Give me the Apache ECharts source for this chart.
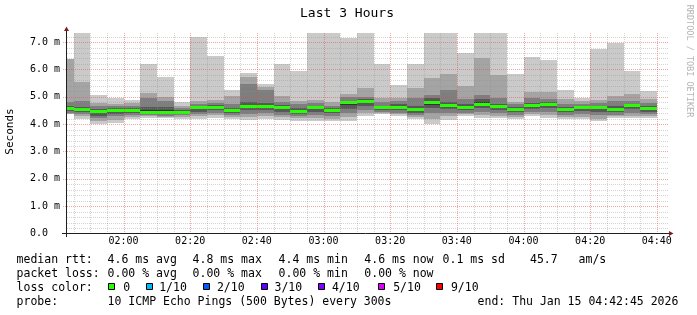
<!DOCTYPE html>
<html><head><meta charset="utf-8">
<script src="https://cdn.jsdelivr.net/npm/echarts@6/dist/echarts.min.js"></script>
<style>html,body{margin:0;padding:0;background:#fff}#c{width:697px;height:315px}</style>
</head><body><div id="c"></div>
<script>
// ---------- data ----------
const titleText = 'Last 3 Hours';
const startTime = '01:42:45';
const endTime = '04:42:45';
const stepMin = 5;
const sampleTimes = ['01:45','01:50','01:55','02:00','02:05','02:10','02:15','02:20','02:25','02:30','02:35','02:40','02:45','02:50','02:55','03:00','03:05','03:10','03:15','03:20','03:25','03:30','03:35','03:40','03:45','03:50','03:55','04:00','04:05','04:10','04:15','04:20','04:25','04:30','04:35','04:40'];
// sorted ping RTTs (ms) per sample, lowest (ping01) to highest (ping10)
const ping01 = [4.36,4.18,4.02,4.03,4.18,4.24,4.22,4.18,4.18,4.24,4.18,4.15,4.18,4.15,4.13,4.13,4.10,4.10,4.30,4.36,4.30,4.18,4.02,4.15,4.30,4.24,4.24,4.18,4.30,4.24,4.18,4.18,4.10,4.22,4.22,4.22];
const ping02 = [4.36,4.28,4.12,4.15,4.26,4.28,4.26,4.25,4.28,4.32,4.26,4.25,4.28,4.25,4.22,4.24,4.20,4.25,4.40,4.40,4.36,4.25,4.20,4.28,4.36,4.32,4.30,4.26,4.36,4.32,4.26,4.27,4.20,4.28,4.30,4.28];
const ping03 = [4.42,4.38,4.22,4.28,4.35,4.33,4.30,4.32,4.38,4.40,4.35,4.38,4.40,4.35,4.30,4.35,4.30,4.42,4.52,4.44,4.42,4.33,4.40,4.42,4.42,4.45,4.40,4.35,4.45,4.45,4.35,4.38,4.33,4.35,4.42,4.36];
const ping04 = [4.48,4.45,4.30,4.38,4.42,4.38,4.36,4.38,4.45,4.50,4.42,4.50,4.52,4.45,4.38,4.45,4.40,4.56,4.66,4.50,4.50,4.42,4.58,4.55,4.50,4.58,4.52,4.45,4.55,4.58,4.44,4.48,4.45,4.43,4.55,4.45];
const ping05 = [4.54,4.52,4.42,4.47,4.48,4.43,4.42,4.43,4.55,4.58,4.48,4.62,4.62,4.55,4.45,4.55,4.48,4.70,4.78,4.57,4.58,4.50,4.70,4.65,4.56,4.68,4.62,4.52,4.65,4.68,4.52,4.58,4.55,4.50,4.65,4.53];
const ping06 = [4.60,4.58,4.50,4.55,4.53,4.50,4.50,4.48,4.63,4.65,4.54,4.70,4.70,4.64,4.52,4.63,4.56,4.81,4.87,4.63,4.66,4.58,4.86,4.73,4.64,4.80,4.70,4.59,4.73,4.75,4.59,4.65,4.63,4.58,4.72,4.60];
const ping07 = [4.68,4.64,4.55,4.58,4.58,4.63,4.62,4.52,4.68,4.70,4.60,4.80,4.78,4.70,4.60,4.68,4.60,4.85,4.90,4.68,4.72,4.68,4.96,4.80,4.72,4.90,4.75,4.62,4.78,4.80,4.63,4.68,4.68,4.65,4.75,4.65];
const ping08 = [4.79,4.86,4.65,4.65,4.65,4.97,4.85,4.58,4.75,4.78,4.72,5.46,5.24,4.81,4.72,4.76,4.68,4.98,5.00,4.80,4.85,4.95,5.07,5.24,4.91,5.07,4.95,4.72,4.95,4.92,4.75,4.75,4.78,4.85,4.85,4.78];
const ping09 = [6.39,5.53,4.78,4.72,4.76,5.15,4.98,4.65,4.85,4.89,5.03,5.72,5.36,5.03,4.85,4.87,4.79,5.11,5.33,4.95,4.97,5.33,5.70,5.84,5.40,6.43,5.80,4.82,5.19,5.19,4.91,4.85,4.87,5.03,5.09,4.91];
const ping10 = [6.39,7.40,5.05,4.97,4.89,6.21,5.72,4.79,7.18,6.49,5.24,5.88,5.46,6.21,5.94,7.40,7.40,7.13,7.40,6.21,5.43,6.21,7.40,7.40,6.61,7.40,7.40,5.84,6.45,6.33,5.24,4.97,6.73,6.97,5.94,5.21];
const medianRtt = [4.58,4.56,4.47,4.53,4.51,4.46,4.46,4.46,4.61,4.63,4.51,4.67,4.67,4.61,4.49,4.61,4.53,4.79,4.85,4.61,4.64,4.55,4.82,4.70,4.61,4.75,4.67,4.57,4.70,4.73,4.57,4.63,4.61,4.55,4.70,4.58];
const xTickLabels = ['02:00','02:20','02:40','03:00','03:20','03:40','04:00','04:20','04:40'];
const yTickValues = [0,1,2,3,4,5,6,7];
const yTickLabels = ['0.0  ','1.0 m','2.0 m','3.0 m','4.0 m','5.0 m','6.0 m','7.0 m'];
const yMax = 7.331;
const lossLabels = ['0','1/10','2/10','3/10','4/10','5/10','9/10'];
const lossColors = ['#26ff00','#00b8ff','#0059ff','#5e00ff','#7e00ff','#dd00ff','#ff0000'];
const statsRtt = ['median rtt:','4.6 ms avg','4.8 ms max','4.4 ms min','4.6 ms now','0.1 ms sd','45.7','am/s'];
const statsLoss = ['packet loss:','0.00 % avg','0.00 % max','0.00 % min','0.00 % now'];
const probeRow = ['probe:','10 ICMP Echo Pings (500 Bytes) every 300s','end: Thu Jan 15 04:42:45 2026'];

// ---------- helpers ----------
function toMin(s){ const p=s.split(':').map(Number); return p[0]*60+p[1]+(p[2]||0)/60; }
const MONO = '"DejaVu Sans Mono", monospace';
const tMin = toMin(startTime), tMax = toMin(endTime);
const xTickValues = xTickLabels.map(toMin);
const smokeColors = ['#cacaca','#a4a4a4','#7e7e7e','#585858','#323232'];
const MINOR = 'rgba(143,143,143,0.38)';
const MAJOR = 'rgba(222,79,79,0.5)';

const pings = [ping01,ping02,ping03,ping04,ping05,ping06,ping07,ping08,ping09,ping10];
const bars = sampleTimes.map((t,i)=>[Math.max(tMin, toMin(t)-stepMin), toMin(t)].concat(pings.map(a=>a[i])).concat([medianRtt[i]]));

const gridLines = [];
for (let k=1; k*0.2 < yMax; k++) gridLines.push([k%5===0?1:0, +(k*0.2).toFixed(2)]);
for (let t=Math.ceil(tMin/stepMin)*stepMin; t<=tMax; t+=stepMin) gridLines.push([t%20===0?3:2, t]);

const chart = echarts.init(document.getElementById('c'), null, {renderer:'canvas', width:697, height:315});

// legend graphics
const g = [];
function txt(x,y,s,extra){ g.push(Object.assign({type:'text', x:x, y:y, silent:true, style:{text:s, font:'11.5px '+MONO, fill:'#000', align:'left', verticalAlign:'middle'}}, extra||{})); }
const rowY = [260.5, 274, 288, 302];
const rttX = [16.6,107.6,192.6,278.6,364.3,442.6,530,578.6];
statsRtt.forEach((s,i)=>txt(rttX[i], rowY[0], s));
const lossX = [16.6,107.6,192.6,278.6,364.3];
statsLoss.forEach((s,i)=>txt(lossX[i], rowY[1], s));
txt(16.6, rowY[2], 'loss color:');
const boxX = [108,146,203,261,318,378,436];
const boxLabelX = [123.2,159.2,216.9,274.5,331.9,393.2,450.9];
lossLabels.forEach((s,i)=>{
  g.push({type:'rect', silent:true, shape:{x:boxX[i]+0.5, y:283.5, width:6, height:6}, style:{fill:lossColors[i], stroke:'#000', lineWidth:1}});
  txt(boxLabelX[i], rowY[2], s);
});
const probeX = [16.6,107.6,477.6];
probeRow.forEach((s,i)=>txt(probeX[i], rowY[3], s));
// title, unit, watermark
g.push({type:'text', x:347, y:13.8, silent:true, style:{text:titleText, font:'13px '+MONO, fill:'#000', align:'center', verticalAlign:'middle'}});
g.push({type:'text', x:10, y:131.5, rotation:Math.PI/2, silent:true, style:{text:'Seconds', font:'11px '+MONO, fill:'#000', align:'center', verticalAlign:'middle'}});
g.push({type:'text', x:689, y:61, rotation:-Math.PI/2, silent:true, style:{text:'RRDTOOL / TOBI OETIKER', font:'8.5px '+MONO, fill:'#b4b4b4', align:'center', verticalAlign:'middle'}});
// axes with arrows
g.push({type:'line', silent:true, z:100, shape:{x1:62, y1:233.5, x2:669, y2:233.5}, style:{stroke:'#1f1f1f', lineWidth:1}});
g.push({type:'line', silent:true, z:100, shape:{x1:66.5, y1:237, x2:66.5, y2:30}, style:{stroke:'#1f1f1f', lineWidth:1}});
g.push({type:'polygon', silent:true, z:101, shape:{points:[[64,31],[69,31],[66.5,26.5]]}, style:{fill:'#801f1f'}});
g.push({type:'polygon', silent:true, z:101, shape:{points:[[669,231],[669,236],[673.5,233.5]]}, style:{fill:'#801f1f'}});

const option = {
  animation:false,
  backgroundColor:'#fff',
  grid:{left:66, top:33, width:600, height:200.5, containLabel:false},
  xAxis:{type:'value', min:tMin, max:tMax,
    axisLine:{show:false}, axisTick:{show:false}, splitLine:{show:false},
    axisLabel:{customValues:xTickValues, formatter:v=>{const i=xTickValues.findIndex(x=>Math.abs(x-v)<1e-6); return i>=0?xTickLabels[i]:'';}, fontFamily:MONO, fontSize:10, color:'#000', margin:3}},
  yAxis:{type:'value', min:0, max:yMax,
    axisLine:{show:false}, axisTick:{show:false}, splitLine:{show:false},
    axisLabel:{customValues:yTickValues, formatter:v=>{const i=yTickValues.findIndex(x=>Math.abs(x-v)<1e-6); return i>=0?yTickLabels[i]:'';}, fontFamily:MONO, fontSize:10, color:'#000', margin:6, align:'right'}},
  series:[
    {type:'custom', name:'smoke', silent:true, z:1, data:bars,
     encode:{x:[0,1], y:[2,11]},
     renderItem:(params, api)=>{
       const cs = params.coordSys;
       const X0 = Math.round(api.coord([api.value(0),0])[0]);
       const X1 = Math.round(api.coord([api.value(1),0])[0]);
       const ch = [];
       for (let j=0;j<5;j++){
         const lo = api.value(2+j), hi = api.value(11-j);
         const yLo = Math.round(api.coord([tMin, lo])[1]);
         const yHi = Math.round(Math.max(cs.y, api.coord([tMin, hi])[1]));
         if (yLo-yHi <= 0) continue;
         ch.push({type:'rect', shape:{x:X0, y:yHi, width:X1-X0, height:yLo-yHi}, style:{fill:smokeColors[j]}});
       }
       // median: 3px line segment
       const ym = Math.round(api.coord([tMin, api.value(12)])[1]);
       ch.push({type:'rect', shape:{x:X0, y:ym-1, width:X1-X0, height:3}, style:{fill:lossColors[0]}});
       return {type:'group', children:ch};
     }},
    {type:'custom', name:'grid', silent:true, z:3, data:gridLines,
     encode:{x:1, y:1},
     renderItem:(params, api)=>{
       const cs = params.coordSys;
       const kind = api.value(0), v = api.value(1);
       if (kind < 2){
         const y = Math.round(api.coord([tMin, v])[1]) + 0.5;
         return {type:'line', shape:{x1: kind===1 ? cs.x-3 : cs.x+1, y1:y, x2:cs.x+cs.width+2, y2:y},
                 style:{stroke: kind===1?MAJOR:MINOR, lineWidth:1, lineDash:[1,1]}};
       }
       const x = Math.round(api.coord([v, 0])[0]) + 0.5;
       return {type:'line', shape:{x1:x, y1:cs.y, x2:x, y2:cs.y+cs.height},
               style:{stroke: kind===3?MAJOR:MINOR, lineWidth:1, lineDash:[1,1]}};
     }}
  ],
  graphic:g
};
chart.setOption(option);
</script></body></html>
